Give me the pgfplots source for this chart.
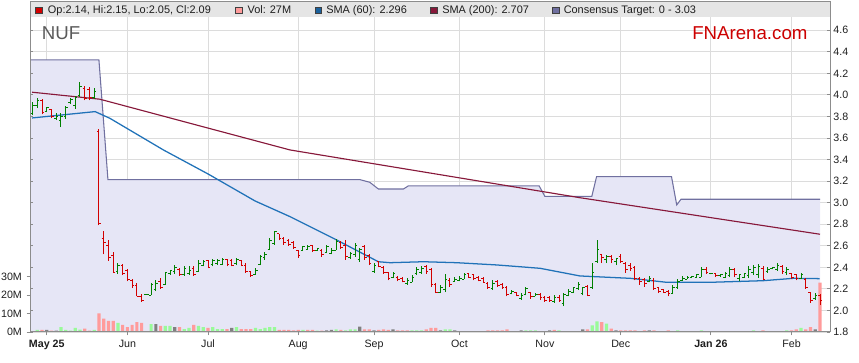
\documentclass[border=0pt]{standalone}
\usepackage{fontspec}
\setmainfont{Liberation Sans}
\usepackage{pgfplots}
\usepackage{pgfplotstable}
\pgfplotsset{compat=1.18}

\definecolor{lav}{RGB}{230,230,246}
\definecolor{tgt}{RGB}{112,112,160}
\definecolor{smaA}{RGB}{32,114,184}
\definecolor{smaB}{RGB}{135,24,58}
\definecolor{upc}{RGB}{0,128,0}
\definecolor{dnc}{RGB}{210,0,0}
\definecolor{vg}{RGB}{153,250,153}
\definecolor{vp}{RGB}{255,155,155}
\definecolor{vn}{RGB}{128,128,128}
\definecolor{framec}{RGB}{140,140,140}
\definecolor{gridc}{RGB}{220,220,220}
\definecolor{bandc}{RGB}{229,229,229}
\definecolor{fnred}{RGB}{204,0,0}
\definecolor{nufc}{RGB}{90,90,90}
\definecolor{txt}{RGB}{30,30,30}

\pgfdeclareplotmark{otick}{\pgfpathmoveto{\pgfqpoint{-\pgfplotmarksize}{0pt}}\pgfpathlineto{\pgfqpoint{0pt}{0pt}}\pgfusepathqstroke}
\pgfdeclareplotmark{ctick}{\pgfpathmoveto{\pgfqpoint{0pt}{0pt}}\pgfpathlineto{\pgfqpoint{\pgfplotmarksize}{0pt}}\pgfusepathqstroke}

\pgfplotsset{
  only up/.style={restrict expr to domain={\thisrow{d}}{0.5:1.5}},
  only down/.style={restrict expr to domain={\thisrow{d}}{-0.5:0.5}},
  vol up/.style={restrict expr to domain={\thisrow{vc}}{0.5:1.5}},
  vol down/.style={restrict expr to domain={\thisrow{vc}}{1.5:2.5}},
  vol flat/.style={restrict expr to domain={\thisrow{vc}}{2.5:3.5}},
  layers/chart/.define layer set={
    axis background,axis grid,main,axis ticks,axis lines,axis tick labels,axis descriptions,axis foreground
  }{
    grid style={/pgfplots/on layer=axis grid},
    tick style={/pgfplots/on layer=axis ticks},
    axis line style={/pgfplots/on layer=axis lines},
    label style={/pgfplots/on layer=axis descriptions},
    legend style={/pgfplots/on layer=axis foreground},
    title style={/pgfplots/on layer=axis descriptions},
    colorbar style={/pgfplots/on layer=axis descriptions},
    ticklabel style={/pgfplots/on layer=axis tick labels},
    axis background@ style={/pgfplots/on layer=axis background},
    3d box foreground style={/pgfplots/on layer=axis foreground},
  },
}

% i: bar index, o h l c: price, v: volume (M), vc: volume colour class (1 up, 2 down, 3 flat), d: 1 up bar, 0 down bar
\pgfplotstableread{
i o h l c v vc d
0 3.83 3.93 3.81 3.90 0.5 1 1
1 3.90 3.97 3.88 3.95 1.1 1 1
2 3.95 3.96 3.82 3.84 1.1 2 0
3 3.85 3.89 3.84 3.88 1.1 3 1
4 3.86 3.87 3.79 3.80 0.7 2 0
5 3.78 3.83 3.77 3.80 0.7 3 1
6 3.76 3.83 3.70 3.80 2.7 1 1
7 3.80 3.90 3.78 3.88 1.1 1 1
8 3.93 3.97 3.92 3.96 0.7 1 1
9 3.90 3.99 3.87 3.98 2.2 1 1
10 3.99 4.12 3.98 4.08 1.3 1 1
11 4.06 4.08 3.95 3.97 1.8 2 0
12 4.05 4.07 3.95 3.98 0.7 2 0
13 3.98 4.06 3.96 4.03 1.1 1 1
14 3.66 3.68 2.79 2.81 10.1 2 0
15 2.67 2.74 2.52 2.63 7.2 2 0
16 2.60 2.65 2.46 2.49 6.0 2 0
17 2.51 2.54 2.35 2.35 6.0 2 0
18 2.36 2.44 2.34 2.42 4.9 1 1
19 2.42 2.43 2.33 2.34 3.8 2 0
20 2.37 2.38 2.27 2.29 2.7 2 0
21 2.28 2.29 2.21 2.23 3.8 2 0
22 2.23 2.25 2.13 2.13 5.4 2 0
23 2.13 2.15 2.08 2.09 4.9 2 0
24 2.145 2.15 2.145 2.15 0 1 1
25 2.14 2.25 2.14 2.24 4.3 1 1
26 2.19 2.28 2.18 2.25 4.3 3 1
27 2.27 2.30 2.20 2.21 3.3 2 0
28 2.24 2.36 2.24 2.35 3.3 1 1
29 2.34 2.37 2.33 2.37 3.3 1 1
30 2.36 2.42 2.34 2.40 2.7 3 1
31 2.38 2.39 2.32 2.33 2.7 2 0
32 2.33 2.41 2.32 2.39 1.6 1 1
33 2.34 2.41 2.33 2.37 2.2 1 1
34 2.39 2.41 2.32 2.33 3.8 2 0
35 2.36 2.47 2.36 2.44 3.3 1 1
36 2.42 2.47 2.41 2.45 2.7 1 1
37 2.46 2.47 2.39 2.40 2.2 2 0
38 2.43 2.48 2.41 2.46 2.7 1 1
39 2.44 2.48 2.42 2.46 1.6 1 1
40 2.43 2.49 2.42 2.47 1.6 1 1
41 2.47 2.48 2.41 2.43 1.6 2 0
42 2.46 2.48 2.41 2.42 2.2 3 0
43 2.44 2.49 2.42 2.47 2.7 1 1
44 2.46 2.47 2.41 2.42 1.6 2 0
45 2.42 2.44 2.35 2.36 1.6 2 0
46 2.36 2.37 2.31 2.32 1.6 2 0
47 2.33 2.39 2.33 2.37 2.2 1 1
48 2.43 2.51 2.42 2.50 1.6 1 1
49 2.49 2.54 2.47 2.52 2.2 1 1
50 2.57 2.67 2.56 2.65 2.7 1 1
51 2.62 2.74 2.61 2.73 2.7 1 1
52 2.71 2.71 2.65 2.67 1.1 2 0
53 2.67 2.68 2.61 2.63 1.1 2 0
54 2.65 2.66 2.60 2.61 1.1 2 0
55 2.63 2.64 2.57 2.58 0.9 2 0
56 2.56 2.56 2.49 2.51 1.1 2 0
57 2.56 2.60 2.55 2.59 1.1 1 1
58 2.57 2.61 2.57 2.59 1.1 2 1
59 2.60 2.61 2.54 2.56 1.1 2 0
60 2.56 2.58 2.55 2.575 0.7 1 1
61 2.56 2.57 2.50 2.52 0.7 2 0
62 2.54 2.61 2.54 2.59 0.9 3 1
63 2.53 2.58 2.52 2.56 1.1 3 1
64 2.56 2.66 2.56 2.64 1.4 1 1
65 2.63 2.64 2.57 2.58 1.1 2 0
66 2.60 2.65 2.47 2.50 0.9 1 0
67 2.49 2.54 2.48 2.53 1.4 1 1
68 2.52 2.63 2.50 2.60 1.4 1 1
69 2.47 2.58 2.45 2.57 2.9 3 1
70 2.59 2.61 2.47 2.49 1.4 2 0
71 2.51 2.52 2.42 2.44 1.4 2 0
72 2.36 2.44 2.35 2.42 0.9 3 1
73 2.45 2.46 2.40 2.41 1.1 2 0
74 2.40 2.41 2.34 2.35 1.4 2 0
75 2.35 2.36 2.28 2.30 1.1 2 0
76 2.31 2.36 2.30 2.34 1.4 3 1
77 2.31 2.32 2.27 2.29 0.9 2 0
78 2.30 2.31 2.26 2.27 0.9 2 0
79 2.25 2.30 2.24 2.28 0.9 2 1
80 2.26 2.33 2.26 2.31 0.9 1 1
81 2.34 2.40 2.33 2.38 0.9 1 1
82 2.35 2.41 2.34 2.39 0.9 1 1
83 2.41 2.42 2.34 2.36 1.4 2 0
84 2.38 2.39 2.22 2.24 2.2 2 0
85 2.24 2.25 2.16 2.17 2.2 2 0
86 2.17 2.24 2.16 2.21 0.9 3 1
87 2.19 2.34 2.17 2.29 1.4 1 1
88 2.28 2.30 2.22 2.24 1.4 1 0
89 2.27 2.31 2.27 2.29 0.9 3 1
90 2.28 2.32 2.27 2.30 0.5 2 1
91 2.29 2.35 2.29 2.33 0.5 2 1
92 2.34 2.35 2.30 2.31 0.5 1 0
93 2.33 2.34 2.28 2.30 0.5 2 0
94 2.31 2.32 2.27 2.28 0.5 2 0
95 2.30 2.31 2.26 2.26 0.5 2 0
96 2.25 2.26 2.20 2.21 0.9 2 0
97 2.20 2.28 2.19 2.25 0.9 2 1
98 2.27 2.28 2.22 2.23 0.9 2 0
99 2.24 2.25 2.20 2.21 0.9 2 0
100 2.21 2.23 2.13 2.15 1.4 2 0
101 2.16 2.19 2.15 2.18 0.5 2 1
102 2.17 2.17 2.13 2.14 0.5 2 0
103 2.11 2.16 2.10 2.14 0.9 3 1
104 2.15 2.22 2.14 2.20 0.9 1 1
105 2.17 2.17 2.11 2.13 0.9 1 0
106 2.13 2.16 2.13 2.15 0.9 1 1
107 2.15 2.16 2.10 2.12 0.5 1 0
108 2.12 2.13 2.08 2.09 0.5 2 0
109 2.12 2.13 2.08 2.09 0.9 3 0
110 2.08 2.14 2.07 2.12 1.1 2 1
111 2.12 2.14 2.08 2.09 0.9 1 0
112 2.06 2.16 2.04 2.15 0.5 1 1
113 2.14 2.20 2.13 2.18 0.5 1 1
114 2.17 2.22 2.16 2.21 0.5 1 1
115 2.20 2.26 2.19 2.24 0.5 1 1
116 2.16 2.22 2.14 2.21 1.4 3 1
117 2.22 2.24 2.13 2.14 1.4 2 0
118 2.21 2.44 2.20 2.35 3.6 1 1
119 2.45 2.65 2.44 2.57 5.8 1 1
120 2.52 2.52 2.44 2.49 5.4 2 0
121 2.47 2.51 2.44 2.50 4.5 1 1
122 2.50 2.51 2.44 2.47 1.8 2 0
123 2.45 2.49 2.42 2.48 0.9 3 1
124 2.50 2.52 2.44 2.45 0.9 2 0
125 2.44 2.45 2.35 2.38 0.9 2 0
126 2.42 2.44 2.37 2.39 0.9 2 0
127 2.40 2.41 2.28 2.30 0.9 2 0
128 2.30 2.31 2.24 2.27 0.5 2 0
129 2.29 2.30 2.22 2.25 0.9 2 0
130 2.27 2.32 2.26 2.30 0.9 3 1
131 2.28 2.30 2.19 2.20 0.9 2 0
132 2.21 2.21 2.16 2.18 0.5 2 0
133 2.19 2.20 2.16 2.17 0.5 2 0
134 2.18 2.19 2.13 2.16 0.9 2 0
135 2.16 2.24 2.16 2.21 0.5 1 1
136 2.21 2.29 2.20 2.27 0.9 1 1
137 2.28 2.32 2.27 2.30 0.5 3 1
138 2.29 2.32 2.29 2.31 0.5 1 1
139 2.305 2.315 2.30 2.315 0.5 3 1
140 2.31 2.34 2.30 2.33 0.5 1 1
141 2.31 2.40 2.31 2.38 0.9 1 1
142 2.38 2.40 2.34 2.35 0.5 2 0
143 2.34 2.345 2.335 2.345 0.5 3 1
144 2.34 2.35 2.31 2.32 0.5 3 0
145 2.32 2.34 2.31 2.33 0.5 2 1
146 2.31 2.36 2.30 2.34 0.5 3 1
147 2.32 2.40 2.31 2.38 0.5 1 1
148 2.38 2.39 2.31 2.33 0.5 2 0
149 2.30 2.34 2.27 2.33 0.5 3 1
150 2.31 2.35 2.30 2.34 0.5 1 1
151 2.32 2.41 2.30 2.38 0.5 3 1
152 2.35 2.42 2.33 2.40 0.9 1 1
153 2.33 2.43 2.30 2.41 0.5 3 1
154 2.39 2.41 2.28 2.29 0.9 2 0
155 2.36 2.40 2.35 2.38 0.5 3 1
156 2.385 2.40 2.38 2.40 0.5 3 1
157 2.38 2.44 2.37 2.42 0.5 3 1
158 2.41 2.42 2.34 2.36 0.5 1 0
159 2.35 2.40 2.33 2.38 0.9 1 1
160 2.34 2.35 2.29 2.31 0.9 2 0
161 2.33 2.34 2.28 2.30 1.4 2 0
162 2.30 2.35 2.29 2.33 2.2 1 1
163 2.29 2.30 2.20 2.21 1.4 2 0
164 2.17 2.17 2.07 2.09 2.7 2 0
165 2.11 2.16 2.10 2.14 1.4 3 1
166 2.14 2.15 2.05 2.09 26.8 2 0
}\data

\newcommand{\legfont}{\fontsize{8.2}{10}\selectfont}

\begin{document}
\begin{tikzpicture}
% legend band (pixel coordinates, y downwards)
\begin{scope}[x=0.75pt,y=-0.75pt,shift={(0pt,272.25pt)}]
  \fill[bandc] (30,2) rectangle (830,17);
\end{scope}

\begin{axis}[
  set layers=chart,
  at={(22.5pt,23.25pt)}, anchor=south west,
  scale only axis, width=600pt, height=247.5pt,
  xmin=-0.53, xmax=168.11, ymin=1.8, ymax=4.862,
  axis line style={draw=framec, line width=0.75pt},
  tick style={draw=framec, line width=0.6pt},
  major tick length=2.6pt,
  xtick={3,20,37,56,72,90,108,124,143,160},
  xticklabels={\textbf{May 25},Jun,Jul,Aug,Sep,Oct,Nov,Dec,\textbf{Jan 26},Feb},
  xtick pos=left, xtick align=outside,
  ytick={1.8,2.0,2.2,2.4,2.6,2.8,3.0,3.2,3.4,3.6,3.8,4.0,4.2,4.4,4.6},
  ytick pos=both, yticklabel pos=right, ytick align=inside,
  grid=major, major grid style={draw=gridc, line width=0.6pt},
  scaled y ticks=false,
  /pgf/number format/assume math mode=true,
  yticklabel style={/pgf/number format/.cd, fixed, fixed zerofill, precision=1, /tikz/.cd, font=\fontsize{8}{9}\selectfont, text=txt, xshift=-1pt},
  xticklabel style={font=\fontsize{8}{9}\selectfont, text=txt},
]
% consensus target area
\addplot[fill=lav, draw=none] coordinates {
 (-0.6,1.8) (-0.6,4.325) (14.0,4.325) (15.9,3.214) (69.0,3.214) (71.1,3.189)
 (72.9,3.127) (78.2,3.127) (79.2,3.155) (106.8,3.155) (108.0,3.059)
 (117.9,3.059) (118.9,3.241) (134.7,3.241) (135.8,2.979) (136.7,3.032)
 (166.0,3.032) (166.0,1.8)};

% volume (drawn in price units: 1M = 0.0171)
\addplot[ybar, bar width=2.4pt, bar shift=0pt, fill=vg, draw=none, vol up]
  table[x=i, y expr=1.8+\thisrow{v}*0.0171] {\data};
\addplot[ybar, bar width=2.4pt, bar shift=0pt, fill=vp, draw=none, vol down]
  table[x=i, y expr=1.8+\thisrow{v}*0.0171] {\data};
\addplot[ybar, bar width=2.4pt, bar shift=0pt, fill=vn, draw=none, vol flat]
  table[x=i, y expr=1.8+\thisrow{v}*0.0171] {\data};

% consensus target line
\addplot[tgt, line width=0.8pt] coordinates {
 (-0.6,4.325) (14.0,4.325) (15.9,3.214) (69.0,3.214) (71.1,3.189)
 (72.9,3.127) (78.2,3.127) (79.2,3.155) (106.8,3.155) (108.0,3.059)
 (117.9,3.059) (118.9,3.241) (134.7,3.241) (135.8,2.979) (136.7,3.032)
 (166.0,3.032)};

% SMA 200
\addplot[smaB, line width=0.85pt] coordinates {
 (-0.1,4.025) (14.2,3.960) (35.3,3.712) (54.3,3.489) (115.4,3.046) (166.0,2.707)};

% SMA 60
\addplot[smaA, line width=0.95pt] coordinates {
 (-0.1,3.786) (13.2,3.845) (16.3,3.783) (27.6,3.489) (37.1,3.264) (46.9,3.016)
 (54.3,2.870) (63.4,2.670) (72.9,2.452) (75.4,2.443) (82.4,2.452) (89.4,2.443)
 (97.9,2.422) (107.0,2.391) (115.4,2.320) (126.0,2.298) (133.7,2.261)
 (142.8,2.261) (154.0,2.276) (160.4,2.298) (165.9,2.295)};

% OHLC bars: up
\addplot[draw=none, mark=none, only up,
  error bars/.cd, y dir=plus, y explicit, error mark=none,
  error bar style={draw=upc, line width=0.75pt}]
  table[x=i, y=l, y error expr=\thisrow{h}-\thisrow{l}] {\data};
\addplot[only marks, mark=otick, mark size=1.6pt, mark options={draw=upc, line width=0.75pt}, only up]
  table[x=i, y=o] {\data};
\addplot[only marks, mark=ctick, mark size=1.6pt, mark options={draw=upc, line width=0.75pt}, only up]
  table[x=i, y=c] {\data};
% OHLC bars: down
\addplot[draw=none, mark=none, only down,
  error bars/.cd, y dir=plus, y explicit, error mark=none,
  error bar style={draw=dnc, line width=0.75pt}]
  table[x=i, y=l, y error expr=\thisrow{h}-\thisrow{l}] {\data};
\addplot[only marks, mark=otick, mark size=1.6pt, mark options={draw=dnc, line width=0.75pt}, only down]
  table[x=i, y=o] {\data};
\addplot[only marks, mark=ctick, mark size=1.6pt, mark options={draw=dnc, line width=0.75pt}, only down]
  table[x=i, y=c] {\data};
\end{axis}

% volume scale on the left
\begin{axis}[
  at={(22.5pt,23.25pt)}, anchor=south west,
  scale only axis, width=600pt, height=247.5pt,
  xmin=-0.53, xmax=168.11, ymin=0, ymax=179.05,
  hide x axis, axis y line*=left,
  y axis line style={draw=framec, line width=0.75pt},
  tick style={draw=framec, line width=0.6pt},
  major tick length=2.6pt,
  ytick={0,10,20,30}, yticklabels={0M,10M,20M,30M},
  ytick align=outside,
  yticklabel style={font=\fontsize{8}{9}\selectfont, text=txt},
]
\addplot[draw=none] coordinates {(0,0)};
\end{axis}

% header texts
\begin{scope}[x=0.75pt,y=-0.75pt,shift={(0pt,272.25pt)}]
  \filldraw[fill=dnc, draw=black!75, line width=0.5pt] (35.7,7.1) rectangle (42.2,13.6);
  \node[anchor=base west, inner sep=0pt, font=\legfont, text=txt] at (47.7,14) {Op:2.14, Hi:2.15, Lo:2.05, Cl:2.09};
  \filldraw[fill=vp, draw=black!75, line width=0.5pt] (235.7,7.1) rectangle (242.2,13.6);
  \node[anchor=base west, inner sep=0pt, font=\legfont, text=txt] at (247.3,14) {Vol: 27M};
  \filldraw[fill=smaA!85!black, draw=black!75, line width=0.5pt] (315,7.1) rectangle (321.5,13.6);
  \node[anchor=base west, inner sep=0pt, font=\legfont, text=txt] at (326,14) {SMA (60): 2.296};
  \filldraw[fill=smaB, draw=black!75, line width=0.5pt] (430.5,7.1) rectangle (437,13.6);
  \node[anchor=base west, inner sep=0pt, font=\legfont, text=txt] at (442,14) {SMA (200): 2.707};
  \filldraw[fill=tgt, draw=black!75, line width=0.5pt] (552.7,7.1) rectangle (559.2,13.6);
  \node[anchor=base west, inner sep=0pt, font=\legfont, text=txt] at (563.5,14) {Consensus Target: 0 - 3.03};
  \node[anchor=base west, inner sep=0pt, font=\fontsize{14}{16}\selectfont, text=nufc] at (41.7,39.3) {NUF};
  \node[anchor=base east, inner sep=0pt, font=\fontsize{14}{16}\selectfont, text=fnred] at (807.7,39.3) {FNArena.com};
\end{scope}

\pgfresetboundingbox
\path[use as bounding box] (0pt,0pt) rectangle (644.25pt,272.25pt);
\end{tikzpicture}
\end{document}
